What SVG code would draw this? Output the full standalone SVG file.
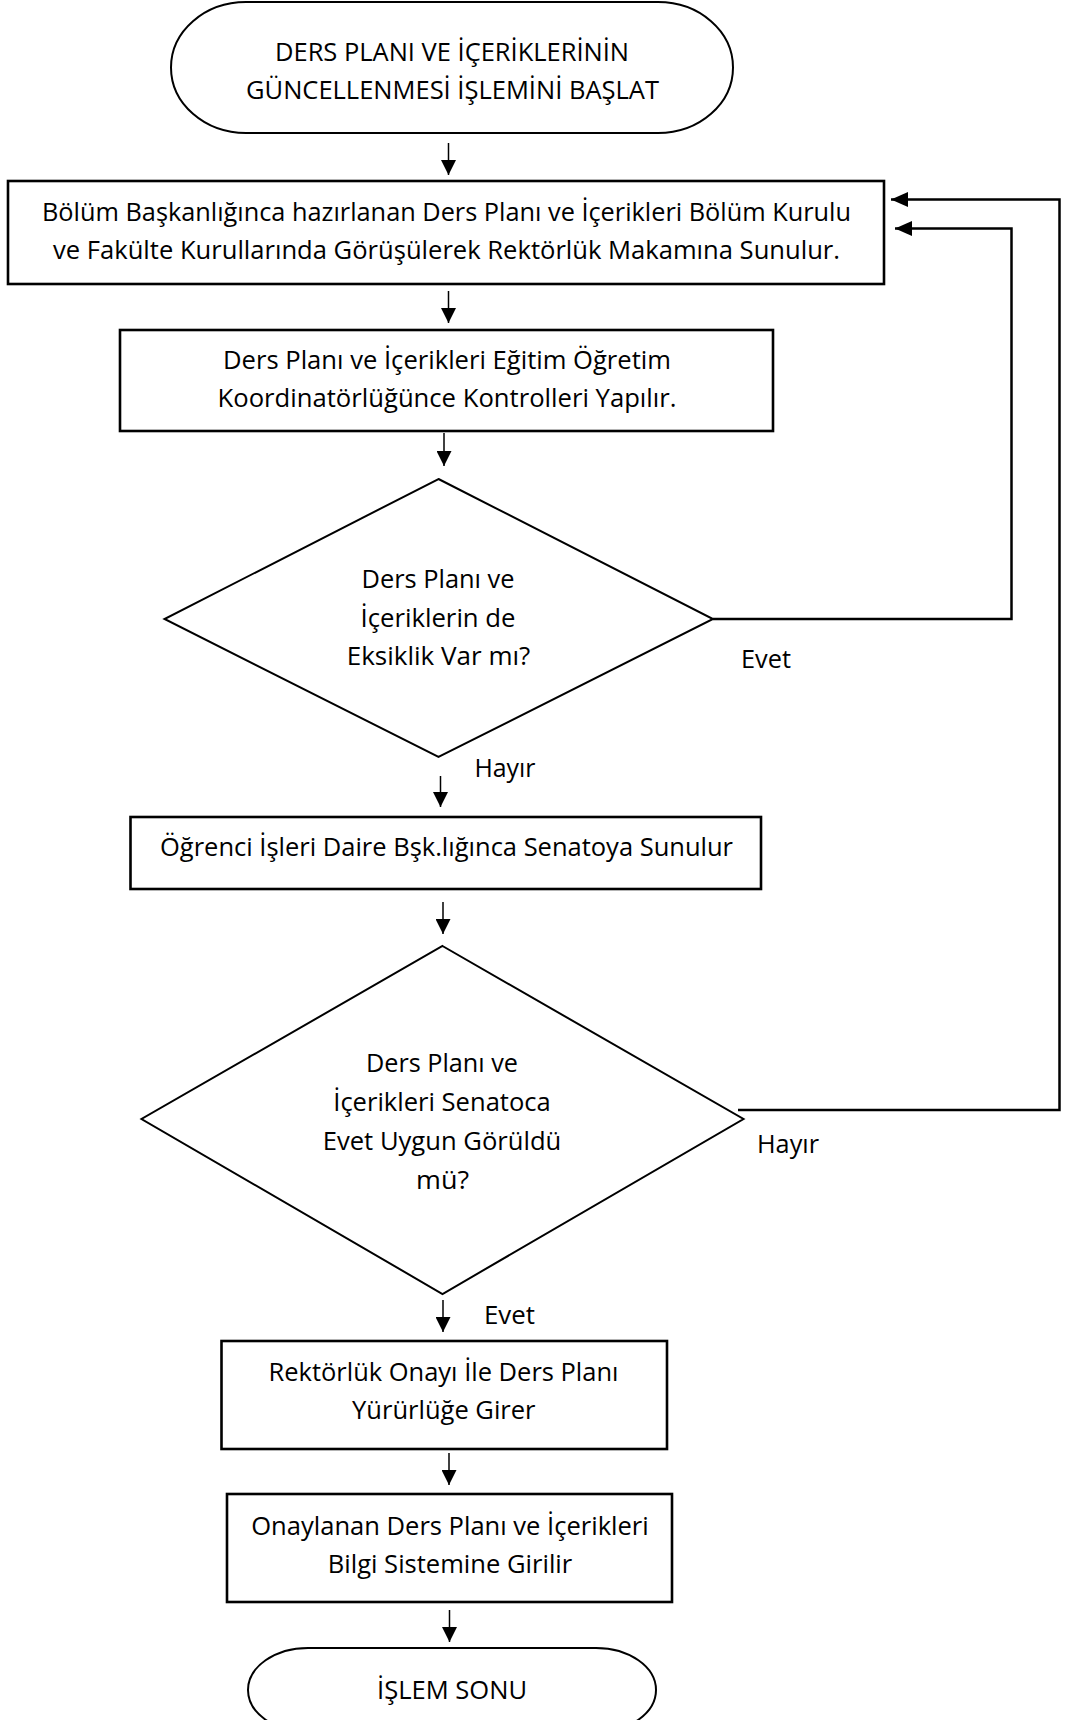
<svg xmlns="http://www.w3.org/2000/svg" width="1066" height="1720" viewBox="0 0 1066 1720">
<style>
.bg{fill:#fff}
.box{fill:#fff;stroke:#000;stroke-width:2.6}
.dec{fill:#fff;stroke:#000;stroke-width:2}
.term{fill:#fff;stroke:#000;stroke-width:2}
.t{font-family:"Open Sans","Liberation Sans",sans-serif;font-size:26px;fill:#000;text-anchor:middle}
.l{font-family:"Open Sans","Liberation Sans",sans-serif;font-size:26px;fill:#000}
.c{fill:none;stroke:#000;stroke-width:1.5}
.fb{fill:none;stroke:#000;stroke-width:2.5}
</style>
<defs>
<marker id="ah" markerUnits="userSpaceOnUse" markerWidth="16" markerHeight="15" refX="15" refY="7.5" orient="auto">
<path d="M0,0 L15,7.5 L0,15 z" fill="#000"/>
</marker>
<marker id="ahb" markerUnits="userSpaceOnUse" markerWidth="18" markerHeight="15" refX="17" refY="7.5" orient="auto">
<path d="M0,0 L17,7.5 L0,15 z" fill="#000"/>
</marker>
</defs>
<rect class="bg" x="0" y="0" width="1066" height="1720"/>

<g id="connectors">
<line class="c" x1="448.5" y1="143" x2="448.5" y2="175" marker-end="url(#ah)"/>
<line class="c" x1="448.5" y1="291" x2="448.5" y2="323" marker-end="url(#ah)"/>
<line class="c" x1="444" y1="433" x2="444" y2="466" marker-end="url(#ah)"/>
<line class="c" x1="440.5" y1="776" x2="440.5" y2="807" marker-end="url(#ah)"/>
<line class="c" x1="443" y1="902" x2="443" y2="934" marker-end="url(#ah)"/>
<line class="c" x1="443" y1="1300" x2="443" y2="1332" marker-end="url(#ah)"/>
<line class="c" x1="449" y1="1453" x2="449" y2="1485" marker-end="url(#ah)"/>
<line class="c" x1="449.5" y1="1610" x2="449.5" y2="1642" marker-end="url(#ah)"/>
<polyline class="fb" points="713,619 1011.5,619 1011.5,228.5 895,228.5" marker-end="url(#ahb)"/>
<polyline class="fb" points="738,1110 1059.5,1110 1059.5,199.5 891,199.5" marker-end="url(#ahb)"/>
<text class="l" x="741" y="668" textLength="50" lengthAdjust="spacingAndGlyphs">Evet</text>
<text class="l" x="474.5" y="777" textLength="61" lengthAdjust="spacingAndGlyphs">Hayır</text>
<text class="l" x="757" y="1153" textLength="62" lengthAdjust="spacingAndGlyphs">Hayır</text>
<text class="l" x="484" y="1324" textLength="51" lengthAdjust="spacingAndGlyphs">Evet</text>
</g>

<g id="start">
<rect class="term" x="171" y="2" width="562" height="131" rx="75" ry="65.5"/>
<text class="t" x="452" y="60.5" textLength="354" lengthAdjust="spacingAndGlyphs">DERS PLANI VE İÇERİKLERİNİN</text>
<text class="t" x="452.5" y="99" textLength="413" lengthAdjust="spacingAndGlyphs">GÜNCELLENMESİ İŞLEMİNİ BAŞLAT</text>
</g>

<g id="hazirlik">
<rect class="box" x="8" y="181" width="876" height="103"/>
<text class="t" x="446.5" y="221" textLength="809" lengthAdjust="spacingAndGlyphs">Bölüm Başkanlığınca hazırlanan Ders Planı ve İçerikleri Bölüm Kurulu</text>
<text class="t" x="446.5" y="259" textLength="787" lengthAdjust="spacingAndGlyphs">ve Fakülte Kurullarında Görüşülerek Rektörlük Makamına Sunulur.</text>
</g>

<g id="kontrol">
<rect class="box" x="120" y="330" width="653" height="101"/>
<text class="t" x="447" y="369" textLength="448" lengthAdjust="spacingAndGlyphs">Ders Planı ve İçerikleri Eğitim Öğretim</text>
<text class="t" x="447" y="407" textLength="459" lengthAdjust="spacingAndGlyphs">Koordinatörlüğünce Kontrolleri Yapılır.</text>
</g>

<g id="karar1">
<polygon class="dec" points="438.5,479 713,619 438.5,757 164.5,619"/>
<text class="t" x="438" y="588" textLength="153" lengthAdjust="spacingAndGlyphs">Ders Planı ve</text>
<text class="t" x="438" y="626.5" textLength="155" lengthAdjust="spacingAndGlyphs">İçeriklerin de</text>
<text class="t" x="438.5" y="665" textLength="183.5" lengthAdjust="spacingAndGlyphs">Eksiklik Var mı?</text>
</g>

<g id="senato">
<rect class="box" x="130.5" y="817" width="630.5" height="72"/>
<text class="t" x="446.5" y="856" textLength="573" lengthAdjust="spacingAndGlyphs">Öğrenci İşleri Daire Bşk.lığınca Senatoya Sunulur</text>
</g>

<g id="karar2">
<polygon class="dec" points="442.5,946 743.5,1119 442.5,1294 141.5,1119"/>
<text class="t" x="442" y="1072" textLength="152" lengthAdjust="spacingAndGlyphs">Ders Planı ve</text>
<text class="t" x="442" y="1111" textLength="217.5" lengthAdjust="spacingAndGlyphs">İçerikleri Senatoca</text>
<text class="t" x="442" y="1150" textLength="238.5" lengthAdjust="spacingAndGlyphs">Evet Uygun Görüldü</text>
<text class="t" x="442.5" y="1189" textLength="53" lengthAdjust="spacingAndGlyphs">mü?</text>
</g>

<g id="rektorluk">
<rect class="box" x="221.5" y="1341" width="445.5" height="108"/>
<text class="t" x="443.5" y="1381" textLength="350" lengthAdjust="spacingAndGlyphs">Rektörlük Onayı İle Ders Planı</text>
<text class="t" x="443.8" y="1419" textLength="183.5" lengthAdjust="spacingAndGlyphs">Yürürlüğe Girer</text>
</g>

<g id="bilgi">
<rect class="box" x="227" y="1494" width="445" height="108"/>
<text class="t" x="450" y="1535" textLength="397.5" lengthAdjust="spacingAndGlyphs">Onaylanan Ders Planı ve İçerikleri</text>
<text class="t" x="450" y="1573" textLength="244.5" lengthAdjust="spacingAndGlyphs">Bilgi Sistemine Girilir</text>
</g>

<g id="end">
<rect class="term" x="248" y="1648" width="408" height="84" rx="60" ry="42"/>
<text class="t" x="452" y="1699" textLength="150" lengthAdjust="spacingAndGlyphs">İŞLEM SONU</text>
</g>
</svg>
